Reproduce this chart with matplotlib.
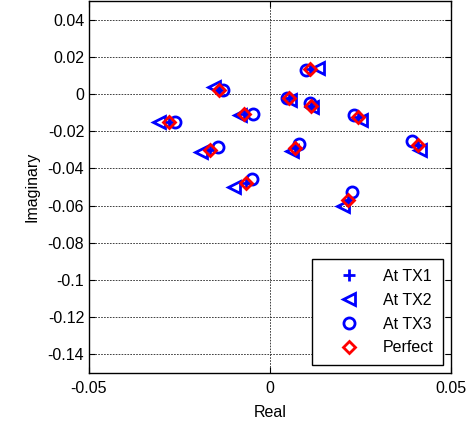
import matplotlib
matplotlib.use("Agg")
import matplotlib.pyplot as plt

plt.rcParams['font.family'] = ['Liberation Sans', 'DejaVu Sans']

# Perfect (diamond) positions
perfect_re = [-0.0279, -0.0141, -0.0072, -0.0166, -0.0066, 0.0052, 0.0110, 0.0113, 0.0243, 0.0069, 0.0409, 0.0216]
perfect_im = [-0.0153, 0.0019, -0.0110, -0.0303, -0.0479, -0.0019, 0.0137, -0.0067, -0.0126, -0.0292, -0.0276, -0.0570]
# At TX1 (plus) positions
tx1_re = [-0.0279, -0.0141, -0.0072, -0.0166, -0.0066, 0.0052, 0.0110, 0.0113, 0.0243, 0.0069, 0.0409, 0.0216]
tx1_im = [-0.0153, 0.0019, -0.0110, -0.0303, -0.0479, -0.0019, 0.0137, -0.0067, -0.0126, -0.0292, -0.0276, -0.0570]
# At TX2 (left triangle) positions
tx2_re = [-0.0307, -0.0155, -0.0083, -0.0191, -0.0099, 0.0055, 0.0133, 0.0116, 0.0251, 0.0061, 0.0414, 0.0202]
tx2_im = [-0.0153, 0.0035, -0.0115, -0.0313, -0.0501, -0.0030, 0.0142, -0.0072, -0.0142, -0.0308, -0.0303, -0.0603]
# At TX3 (circle) positions
tx3_re = [-0.0262, -0.0130, -0.0047, -0.0144, -0.0050, 0.0047, 0.0099, 0.0111, 0.0232, 0.0080, 0.0392, 0.0227]
tx3_im = [-0.0153, 0.0019, -0.0110, -0.0287, -0.0458, -0.0019, 0.0131, -0.0051, -0.0115, -0.0271, -0.0254, -0.0528]

xticks = [-0.05, 0, 0.05]
xticklabels = ['-0.05', '0', '0.05']
yticks = [0.04, 0.02, 0, -0.02, -0.04, -0.06, -0.08, -0.1, -0.12, -0.14]
yticklabels = ['0.04', '0.02', '0', '-0.02', '-0.04', '-0.06', '-0.08', '-0.1', '-0.12', '-0.14']

fig = plt.figure(figsize=(4.77, 4.23), dpi=100)
ax = fig.add_axes([89/477, 1 - 373/423, 362/477, 372/423])

blue = '#0000ff'
red = '#ff0000'
ax.plot(tx1_re, tx1_im, linestyle='none', marker='+', ms=8, mew=2, color=blue, label='At TX1')
ax.plot(tx2_re, tx2_im, linestyle='none', marker='<', ms=9, mew=2, mfc='none', mec=blue, label='At TX2')
ax.plot(tx3_re, tx3_im, linestyle='none', marker='o', ms=8, mew=2, mfc='none', mec=blue, label='At TX3')
ax.plot(perfect_re, perfect_im, linestyle='none', marker='D', ms=6.5, mew=2, mfc='none', mec=red, label='Perfect')

ax.set_xlim(-0.05, 0.05)
ax.set_ylim(-0.15, 0.05)
ax.set_xticks(xticks)
ax.set_xticklabels(xticklabels)
ax.set_yticks(yticks)
ax.set_yticklabels(yticklabels)
ax.tick_params(direction='in', length=4, width=0.8, labelsize=11.5, top=True, right=True, colors='black')
ax.tick_params(axis='x', pad=6)
ax.grid(True, color='#222222', linestyle=(0, (2, 1.5)), linewidth=0.6)
ax.set_axisbelow(True)
for s in ax.spines.values():
    s.set_linewidth(1.0)

ax.set_xlabel('Real', fontsize=11.5, labelpad=6)
ax.set_ylabel('Imaginary', fontsize=11.5, labelpad=6)

leg = ax.legend(loc='lower right', fontsize=11.5, frameon=True, fancybox=False,
                edgecolor='black', framealpha=1, borderaxespad=0.5,
                handletextpad=0.4, borderpad=0.6, labelspacing=0.55, handlelength=3.4)
leg.get_frame().set_linewidth(1.0)

fig.savefig('out.png', dpi=100)
